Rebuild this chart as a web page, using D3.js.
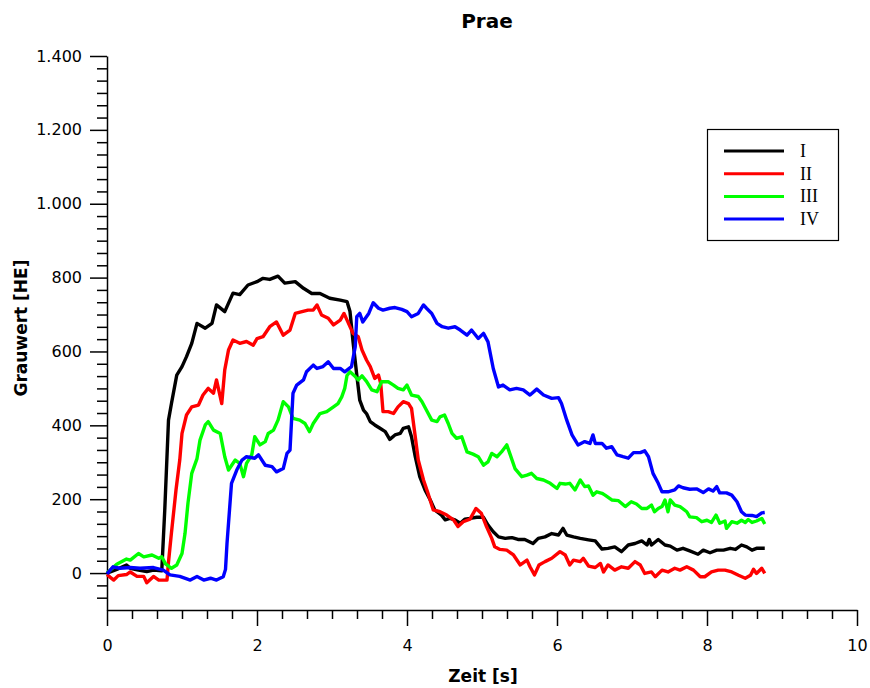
<!DOCTYPE html>
<html>
<head>
<meta charset="utf-8">
<script src="https://cdn.jsdelivr.net/npm/d3@7"></script>
<style>
  html, body { margin: 0; padding: 0; background: #fff; }
  svg { display: block; }
</style>
</head>
<body>
<div id="chart"></div>
<script>
// ---------- DATA ----------
const chartTitle = "Prae";
const xTitle = "Zeit [s]";
const yTitle = "Grauwert [HE]";
const seriesNames = ["I", "II", "III", "IV"];
const seriesColors = ["#000000", "#ff0000", "#00ff00", "#0000ff"];

const xTickValues = [0, 2, 4, 6, 8, 10];
const xTickLabels = ["0", "2", "4", "6", "8", "10"];
const yTickValues = [0, 200, 400, 600, 800, 1000, 1200, 1400];
const yTickLabels = ["0", "200", "400", "600", "800", "1.000", "1.200", "1.400"];

// [time (s), grey value (HE)]
const seriesI = [[0,0],[0.13,10],[0.26,22],[0.31,13],[0.42,8],[0.53,4],[0.62,8],[0.73,6],[0.77,170],[0.82,414],[0.86,460],[0.93,536],[1.00,559],[1.06,586],[1.13,622],[1.20,676],[1.31,663],[1.40,676],[1.46,726],[1.57,708],[1.68,758],[1.77,754],[1.88,780],[2.00,789],[2.08,798],[2.17,795],[2.28,804],[2.37,785],[2.51,789],[2.62,771],[2.73,757],[2.84,757],[2.97,744],[3.11,739],[3.20,735],[3.24,708],[3.28,627],[3.33,537],[3.37,468],[3.42,441],[3.46,432],[3.51,410],[3.57,401],[3.64,392],[3.71,383],[3.77,362],[3.84,374],[3.91,378],[3.95,392],[4.02,396],[4.06,369],[4.11,315],[4.17,261],[4.24,225],[4.31,198],[4.37,171],[4.46,157],[4.51,144],[4.57,148],[4.64,144],[4.71,135],[4.77,146],[4.84,148],[4.93,151],[5.02,151],[5.08,130],[5.15,112],[5.22,98],[5.31,94],[5.40,96],[5.48,91],[5.57,91],[5.68,80],[5.75,94],[5.84,98],[5.93,107],[6.02,103],[6.08,121],[6.13,103],[6.22,98],[6.31,94],[6.42,90],[6.51,87],[6.60,65],[6.68,67],[6.77,71],[6.86,58],[6.95,76],[7.04,80],[7.13,87],[7.20,76],[7.23,91],[7.26,76],[7.35,91],[7.44,76],[7.51,73],[7.60,62],[7.68,67],[7.77,60],[7.88,51],[7.95,62],[8.04,55],[8.13,62],[8.22,62],[8.31,67],[8.38,64],[8.46,76],[8.53,71],[8.60,62],[8.66,67],[8.77,67]];

const seriesII = [[0,-4],[0.04,-11],[0.09,-19],[0.15,-7],[0.26,-4],[0.31,3],[0.40,-9],[0.49,-9],[0.53,-26],[0.62,-9],[0.69,-19],[0.80,-19],[0.82,30],[0.86,110],[0.92,225],[0.97,306],[1.00,378],[1.06,428],[1.13,450],[1.22,455],[1.28,482],[1.35,500],[1.42,487],[1.46,523],[1.53,459],[1.57,550],[1.62,604],[1.68,631],[1.77,622],[1.86,627],[1.95,617],[2.00,635],[2.08,640],[2.17,667],[2.26,680],[2.35,644],[2.44,658],[2.51,703],[2.60,708],[2.68,712],[2.75,712],[2.80,726],[2.86,699],[2.95,690],[3.02,672],[3.11,685],[3.16,703],[3.22,676],[3.28,649],[3.35,640],[3.40,604],[3.46,577],[3.51,559],[3.57,527],[3.62,536],[3.65,513],[3.68,437],[3.75,437],[3.82,432],[3.88,450],[3.95,464],[4.02,459],[4.06,446],[4.11,369],[4.15,306],[4.22,252],[4.28,216],[4.35,171],[4.44,166],[4.53,157],[4.62,144],[4.68,126],[4.75,139],[4.84,146],[4.92,175],[4.99,162],[5.06,126],[5.13,94],[5.17,71],[5.24,64],[5.33,62],[5.42,49],[5.51,22],[5.60,35],[5.64,17],[5.70,-5],[5.76,22],[5.84,31],[5.93,40],[6.04,58],[6.11,49],[6.17,22],[6.22,35],[6.31,31],[6.35,40],[6.42,19],[6.51,15],[6.58,26],[6.62,3],[6.68,22],[6.77,8],[6.86,17],[6.95,13],[7.04,31],[7.11,22],[7.17,-1],[7.26,3],[7.31,-10],[7.40,8],[7.48,3],[7.57,13],[7.64,8],[7.73,17],[7.82,8],[7.91,-10],[7.97,-10],[8.06,3],[8.15,8],[8.24,8],[8.33,3],[8.42,-6],[8.51,-14],[8.58,-6],[8.62,10],[8.66,-1],[8.73,13],[8.77,-1]];

const seriesIII = [[0,0],[0.13,24],[0.26,38],[0.31,35],[0.42,53],[0.49,44],[0.60,49],[0.69,40],[0.73,44],[0.78,25],[0.86,13],[0.93,22],[1.00,53],[1.04,107],[1.08,190],[1.13,270],[1.20,310],[1.24,360],[1.31,401],[1.35,410],[1.42,387],[1.51,378],[1.57,315],[1.62,279],[1.71,306],[1.77,297],[1.82,261],[1.86,297],[1.93,320],[1.97,369],[2.04,347],[2.11,356],[2.15,378],[2.22,387],[2.28,414],[2.35,464],[2.42,450],[2.48,419],[2.57,414],[2.64,405],[2.70,383],[2.75,405],[2.84,432],[2.93,437],[3.02,450],[3.08,459],[3.13,477],[3.17,500],[3.20,535],[3.24,545],[3.31,532],[3.35,523],[3.40,534],[3.46,519],[3.53,496],[3.60,491],[3.66,518],[3.75,518],[3.82,509],[3.88,500],[3.95,496],[4.00,509],[4.06,482],[4.15,478],[4.20,464],[4.26,441],[4.33,414],[4.40,410],[4.44,423],[4.50,428],[4.55,405],[4.60,378],[4.66,365],[4.73,369],[4.80,328],[4.88,322],[4.95,315],[5.02,292],[5.08,301],[5.13,324],[5.20,315],[5.26,328],[5.33,347],[5.37,324],[5.44,283],[5.53,261],[5.60,265],[5.66,270],[5.73,256],[5.82,252],[5.91,243],[6.00,229],[6.04,243],[6.11,241],[6.17,243],[6.24,225],[6.31,252],[6.37,234],[6.42,236],[6.48,211],[6.53,220],[6.60,216],[6.64,211],[6.73,198],[6.82,196],[6.91,180],[6.99,193],[7.06,187],[7.13,175],[7.20,175],[7.26,184],[7.30,166],[7.35,175],[7.40,180],[7.44,198],[7.48,166],[7.51,198],[7.57,184],[7.64,180],[7.73,166],[7.77,152],[7.86,150],[7.93,139],[8.00,143],[8.06,137],[8.12,157],[8.17,135],[8.24,141],[8.26,121],[8.33,139],[8.40,135],[8.46,143],[8.51,137],[8.55,145],[8.60,137],[8.66,141],[8.73,148],[8.77,133]];

const seriesIV = [[0,-2],[0.08,17],[0.17,13],[0.31,15],[0.44,13],[0.62,15],[0.75,8],[0.84,-5],[0.97,-9],[1.11,-19],[1.20,-9],[1.29,-19],[1.38,-14],[1.46,-19],[1.55,-10],[1.58,10],[1.60,80],[1.66,243],[1.73,279],[1.80,306],[1.86,315],[1.97,311],[2.02,320],[2.11,292],[2.20,288],[2.26,274],[2.35,283],[2.40,324],[2.44,333],[2.48,487],[2.53,509],[2.62,523],[2.66,545],[2.75,563],[2.80,554],[2.88,559],[2.95,572],[3.02,554],[3.11,554],[3.17,545],[3.26,559],[3.31,613],[3.33,694],[3.37,703],[3.41,680],[3.49,703],[3.55,732],[3.62,717],[3.68,712],[3.77,717],[3.84,719],[3.93,714],[4.00,708],[4.06,694],[4.15,703],[4.22,726],[4.26,717],[4.33,703],[4.40,676],[4.47,667],[4.55,663],[4.64,667],[4.71,658],[4.80,644],[4.86,658],[4.95,635],[5.02,649],[5.08,626],[5.15,554],[5.22,504],[5.28,509],[5.37,496],[5.46,500],[5.55,496],[5.64,482],[5.73,498],[5.82,482],[5.93,473],[6.02,475],[6.06,459],[6.13,414],[6.20,374],[6.28,347],[6.37,356],[6.44,351],[6.48,374],[6.51,351],[6.60,351],[6.66,338],[6.73,342],[6.80,320],[6.88,315],[6.95,311],[7.02,326],[7.11,326],[7.17,331],[7.22,315],[7.28,270],[7.35,243],[7.40,220],[7.48,220],[7.57,225],[7.62,236],[7.68,231],[7.77,227],[7.86,228],[7.95,218],[8.02,228],[8.08,222],[8.13,234],[8.17,217],[8.26,217],[8.33,211],[8.40,193],[8.46,166],[8.51,157],[8.60,156],[8.66,153],[8.73,163],[8.77,164]];

const allSeries = [seriesI, seriesII, seriesIII, seriesIV];

// ---------- CHART ----------
const W = 870, H = 688;
const plot = { left: 107, right: 857, top: 56, bottom: 610 };
const xDomain = [0, 10], yDomain = [-100, 1400];

const svg = d3.select("#chart").append("svg")
  .attr("width", W).attr("height", H)
  .style("font-family", "'DejaVu Sans', Verdana, sans-serif");

const x = d3.scaleLinear().domain(xDomain).range([plot.left, plot.right]);
const y = d3.scaleLinear().domain(yDomain).range([plot.bottom, plot.top]);

// minor tick values
const xMinor = d3.range(1, 30).map(k => k / 3).filter((v, i) => (i + 1) % 6 !== 0);
const yMinor = d3.range(-2, 42).map(k => k * 200 / 6).filter((v, i) => ((i - 2) % 6 + 6) % 6 !== 0);

// X axis
const xMinorAxis = d3.axisBottom(x).tickValues(xMinor).tickSize(9).tickFormat("").tickSizeOuter(0);
svg.append("g").attr("transform", `translate(0,${plot.bottom})`).call(xMinorAxis)
  .call(g => g.select(".domain").remove())
  .call(g => g.selectAll("line").attr("stroke", "#000").attr("stroke-width", 1.5));
const xAxis = d3.axisBottom(x).tickValues(xTickValues)
  .tickFormat((d, i) => xTickLabels[i]).tickSize(16).tickSizeOuter(0).tickPadding(14);
svg.append("g").attr("transform", `translate(0,${plot.bottom})`).call(xAxis)
  .call(g => g.select(".domain").attr("stroke", "#000").attr("stroke-width", 1.5))
  .call(g => g.selectAll("line").attr("stroke", "#000").attr("stroke-width", 1.5))
  .call(g => g.selectAll("text").attr("fill", "#000")
     .style("font-size", "16px").style("font-family", "'DejaVu Sans', Verdana, sans-serif"));

// Y axis
const yMinorAxis = d3.axisLeft(y).tickValues(yMinor).tickSize(10).tickFormat("").tickSizeOuter(0);
svg.append("g").attr("transform", `translate(${plot.left},0)`).call(yMinorAxis)
  .call(g => g.select(".domain").remove())
  .call(g => g.selectAll("line").attr("stroke", "#000").attr("stroke-width", 1.5));
const yAxis = d3.axisLeft(y).tickValues(yTickValues)
  .tickFormat((d, i) => yTickLabels[i]).tickSize(17).tickSizeOuter(0).tickPadding(8);
svg.append("g").attr("transform", `translate(${plot.left},0)`).call(yAxis)
  .call(g => g.select(".domain").attr("stroke", "#000").attr("stroke-width", 1.5))
  .call(g => g.selectAll("line").attr("stroke", "#000").attr("stroke-width", 1.5))
  .call(g => g.selectAll("text").attr("fill", "#000")
     .style("font-size", "16px").style("font-family", "'DejaVu Sans', Verdana, sans-serif"));

// Lines
const line = d3.line().x(d => x(d[0])).y(d => y(d[1]));
allSeries.forEach((s, i) => {
  svg.append("path").datum(s)
    .attr("fill", "none")
    .attr("stroke", seriesColors[i])
    .attr("stroke-width", 3.4)
    .attr("stroke-linejoin", "round")
    .attr("d", line);
});

// Titles
svg.append("text").attr("x", 487).attr("y", 28).attr("text-anchor", "middle")
  .style("font-size", "20px").style("font-weight", "bold").text(chartTitle);
svg.append("text").attr("x", 483).attr("y", 682).attr("text-anchor", "middle")
  .style("font-size", "17px").style("font-weight", "bold").text(xTitle);
svg.append("text").attr("transform", "translate(27,328) rotate(-90)").attr("text-anchor", "middle")
  .style("font-size", "17px").style("font-weight", "bold").text(yTitle);

// Legend
const lg = svg.append("g");
lg.append("rect").attr("x", 707.5).attr("y", 129.5).attr("width", 131).attr("height", 111)
  .attr("fill", "#fff").attr("stroke", "#000").attr("stroke-width", 1.2);
seriesNames.forEach((name, i) => {
  const ly = 151 + i * 22.7;
  lg.append("line").attr("x1", 724).attr("x2", 784).attr("y1", ly).attr("y2", ly)
    .attr("stroke", seriesColors[i]).attr("stroke-width", 3);
  lg.append("text").attr("x", 800).attr("y", ly + 6)
    .style("font-family", "'Liberation Serif', 'Times New Roman', serif")
    .style("font-size", "18px").text(name);
});
</script>
</body>
</html>
